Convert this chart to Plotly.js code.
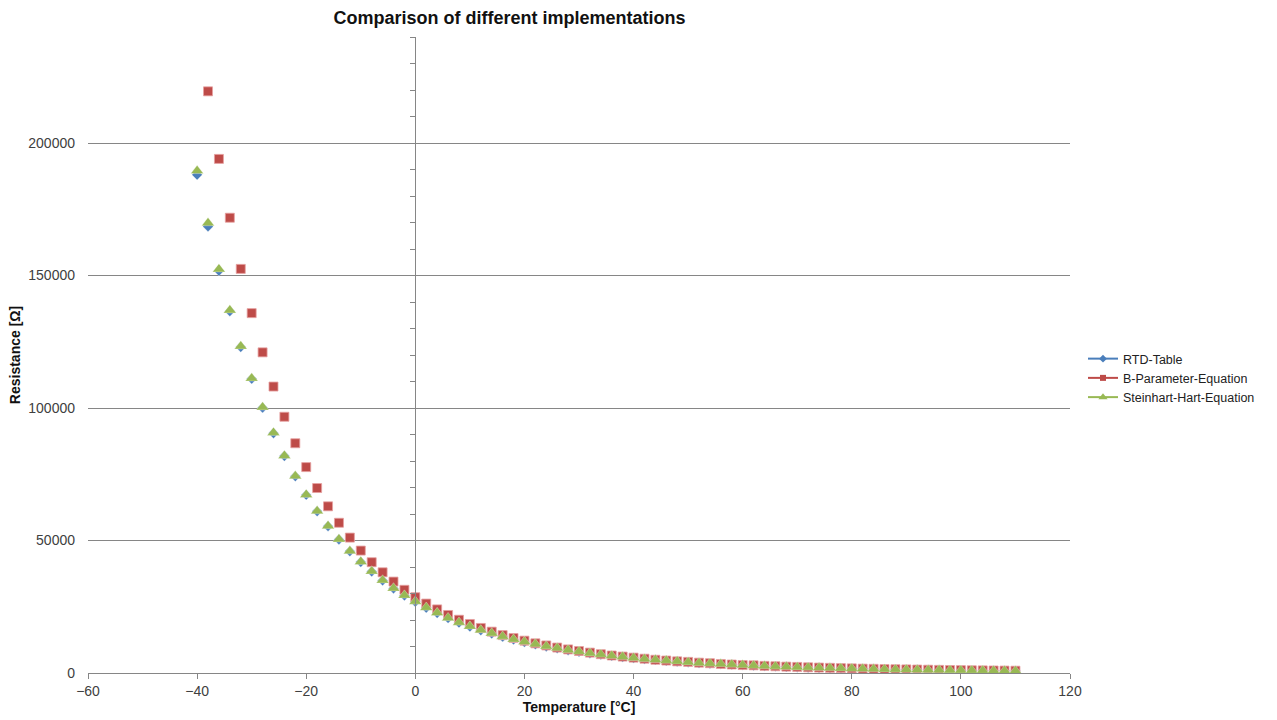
<!DOCTYPE html>
<html>
<head>
<meta charset="utf-8">
<script src="https://cdn.plot.ly/plotly-3.0.1.min.js"></script>
<style>html,body{margin:0;padding:0;background:#fff;}#chart{width:1277px;height:720px;}</style>
</head>
<body>
<div id="chart"></div>
<script>
const temperatures = [-40,-38,-36,-34,-32,-30,-28,-26,-24,-22,-20,-18,-16,-14,-12,-10,-8,-6,-4,-2,0,2,4,6,8,10,12,14,16,18,20,22,24,26,28,30,32,34,36,38,40,42,44,46,48,50,52,54,56,58,60,62,64,66,68,70,72,74,76,78,80,82,84,86,88,90,92,94,96,98,100,102,104,106,108,110];

const rtdTable = [188000,168500,151800,136500,123000,111000,100100,90500,81900,74200,67200,61000,55400,50400,45900,41900,38300,34900,31900,29200,26900,24600,22600,20700,19000,17500,16100,14900,13700,12600,11700,10800,10000,9300,8600,8000,7450,6950,6450,6050,5650,5250,4950,4650,4350,4080,3780,3580,3380,3180,2980,2790,2640,2490,2340,2190,2090,1970,1860,1760,1660,1570,1490,1410,1340,1270,1200,1140,1090,1030,980,930,890,850,810,770];

const bParameter = [null,219500,194000,171800,152500,135800,121000,108100,96700,86700,77700,69800,62900,56700,51100,46200,41800,38000,34500,31400,28600,26200,24000,21900,20100,18500,17000,15600,14300,13200,12200,11200,10400,9600,8900,8300,7700,7100,6600,6200,5800,5400,5000,4700,4400,4200,3900,3700,3400,3200,3000,2900,2700,2550,2400,2300,2150,2050,1950,1850,1750,1650,1580,1500,1430,1360,1300,1240,1180,1130,1080,1030,990,950,910,870];

const steinhartHart = [189500,169800,152400,136900,123300,111200,100300,90700,82000,74300,67300,61100,55500,50500,46000,42000,38400,35000,32000,29300,27000,24700,22700,20800,19100,17600,16200,15000,13800,12700,11800,10900,10100,9400,8700,8100,7500,7000,6500,6100,5700,5300,5000,4700,4400,4100,3800,3600,3400,3200,3000,2800,2650,2500,2350,2200,2100,1980,1870,1770,1670,1580,1500,1420,1350,1280,1210,1150,1100,1040,990,940,900,860,820,780];

const seriesNames = ['RTD-Table','B-Parameter-Equation','Steinhart-Hart-Equation'];

const colors = ['#4a7ebb','#be4b48','#98b954'];
const symbols = ['diamond','square','triangle-up'];
const sizes = [8,9,11];
const values = [rtdTable, bParameter, steinhartHart];

const traces = [];
for (let i = 0; i < 3; i++) {
  traces.push({
    x: temperatures, y: values[i], type: 'scatter', mode: 'markers',
    name: seriesNames[i], showlegend: false,
    marker: {symbol: symbols[i], size: sizes[i], color: colors[i],
             line: {width: 1, color: i === 1 ? 'rgba(230,160,160,0.8)' : 'rgba(255,255,255,0.3)'}},
    hoverinfo: 'x+y'
  });
}
// legend entries (line + marker like the original legend)
for (let i = 0; i < 3; i++) {
  traces.push({
    x: [null], y: [null], type: 'scatter', mode: 'lines+markers', yaxis: 'y2',
    name: seriesNames[i], showlegend: true,
    line: {color: colors[i], width: 2},
    marker: {symbol: symbols[i], size: i === 2 ? 8 : 6, color: colors[i]}
  });
}

const gray = '#868686';
const layout = {
  width: 1277, height: 720,
  margin: {l: 88, r: 207, t: 37, b: 47},
  paper_bgcolor: '#ffffff', plot_bgcolor: '#ffffff',
  font: {family: '"Liberation Sans", Arial, sans-serif', size: 14, color: '#404040'},
  title: {text: '<b>Comparison of different implementations</b>', x: 0.399, xref: 'container', xanchor: 'center',
          y: 0.975, yref: 'container', yanchor: 'middle',
          font: {family: '"Liberation Sans", Arial, sans-serif', size: 18, color: '#111111'}},
  xaxis: {
    range: [-60, 120], dtick: 20, tick0: -60, showgrid: false, zeroline: false,
    showline: true, linecolor: gray, linewidth: 1,
    ticks: 'outside', ticklen: 5, tickcolor: gray, tickwidth: 1,
    tickfont: {size: 14, color: '#404040'}, automargin: false,
    title: {text: '<b>Temperature [°C]</b>', standoff: 4, font: {size: 14, color: '#111111'}}
  },
  yaxis: {
    range: [0, 240000], dtick: 50000, tick0: 0, tickformat: 'd', showgrid: true, gridcolor: gray, gridwidth: 1,
    zeroline: false, showline: false, ticks: '', ticklabelstandoff: 12,
    tickfont: {size: 14, color: '#404040'}, automargin: false,
    title: {text: '<b>Resistance [Ω]</b>', standoff: 4, font: {size: 14, color: '#111111'}}
  },
  yaxis2: {
    overlaying: 'y', anchor: 'free', position: 1/3, side: 'left',
    range: [0, 240000], dtick: 10000, tick0: 0,
    showgrid: false, zeroline: false, showline: true, linecolor: gray, linewidth: 1,
    ticks: 'outside', ticklen: 5, tickcolor: gray, showticklabels: false
  },
  legend: {xref: 'container', yref: 'container', x: 1083/1277, xanchor: 'left', y: (720-378)/720, yanchor: 'middle',
           font: {size: 12.5, color: '#222222'}, itemwidth: 30, tracegroupgap: 0,
           bgcolor: 'rgba(0,0,0,0)'},
  showlegend: true
};

Plotly.newPlot('chart', traces, layout, {displayModeBar: false, staticPlot: true});
</script>
</body>
</html>
